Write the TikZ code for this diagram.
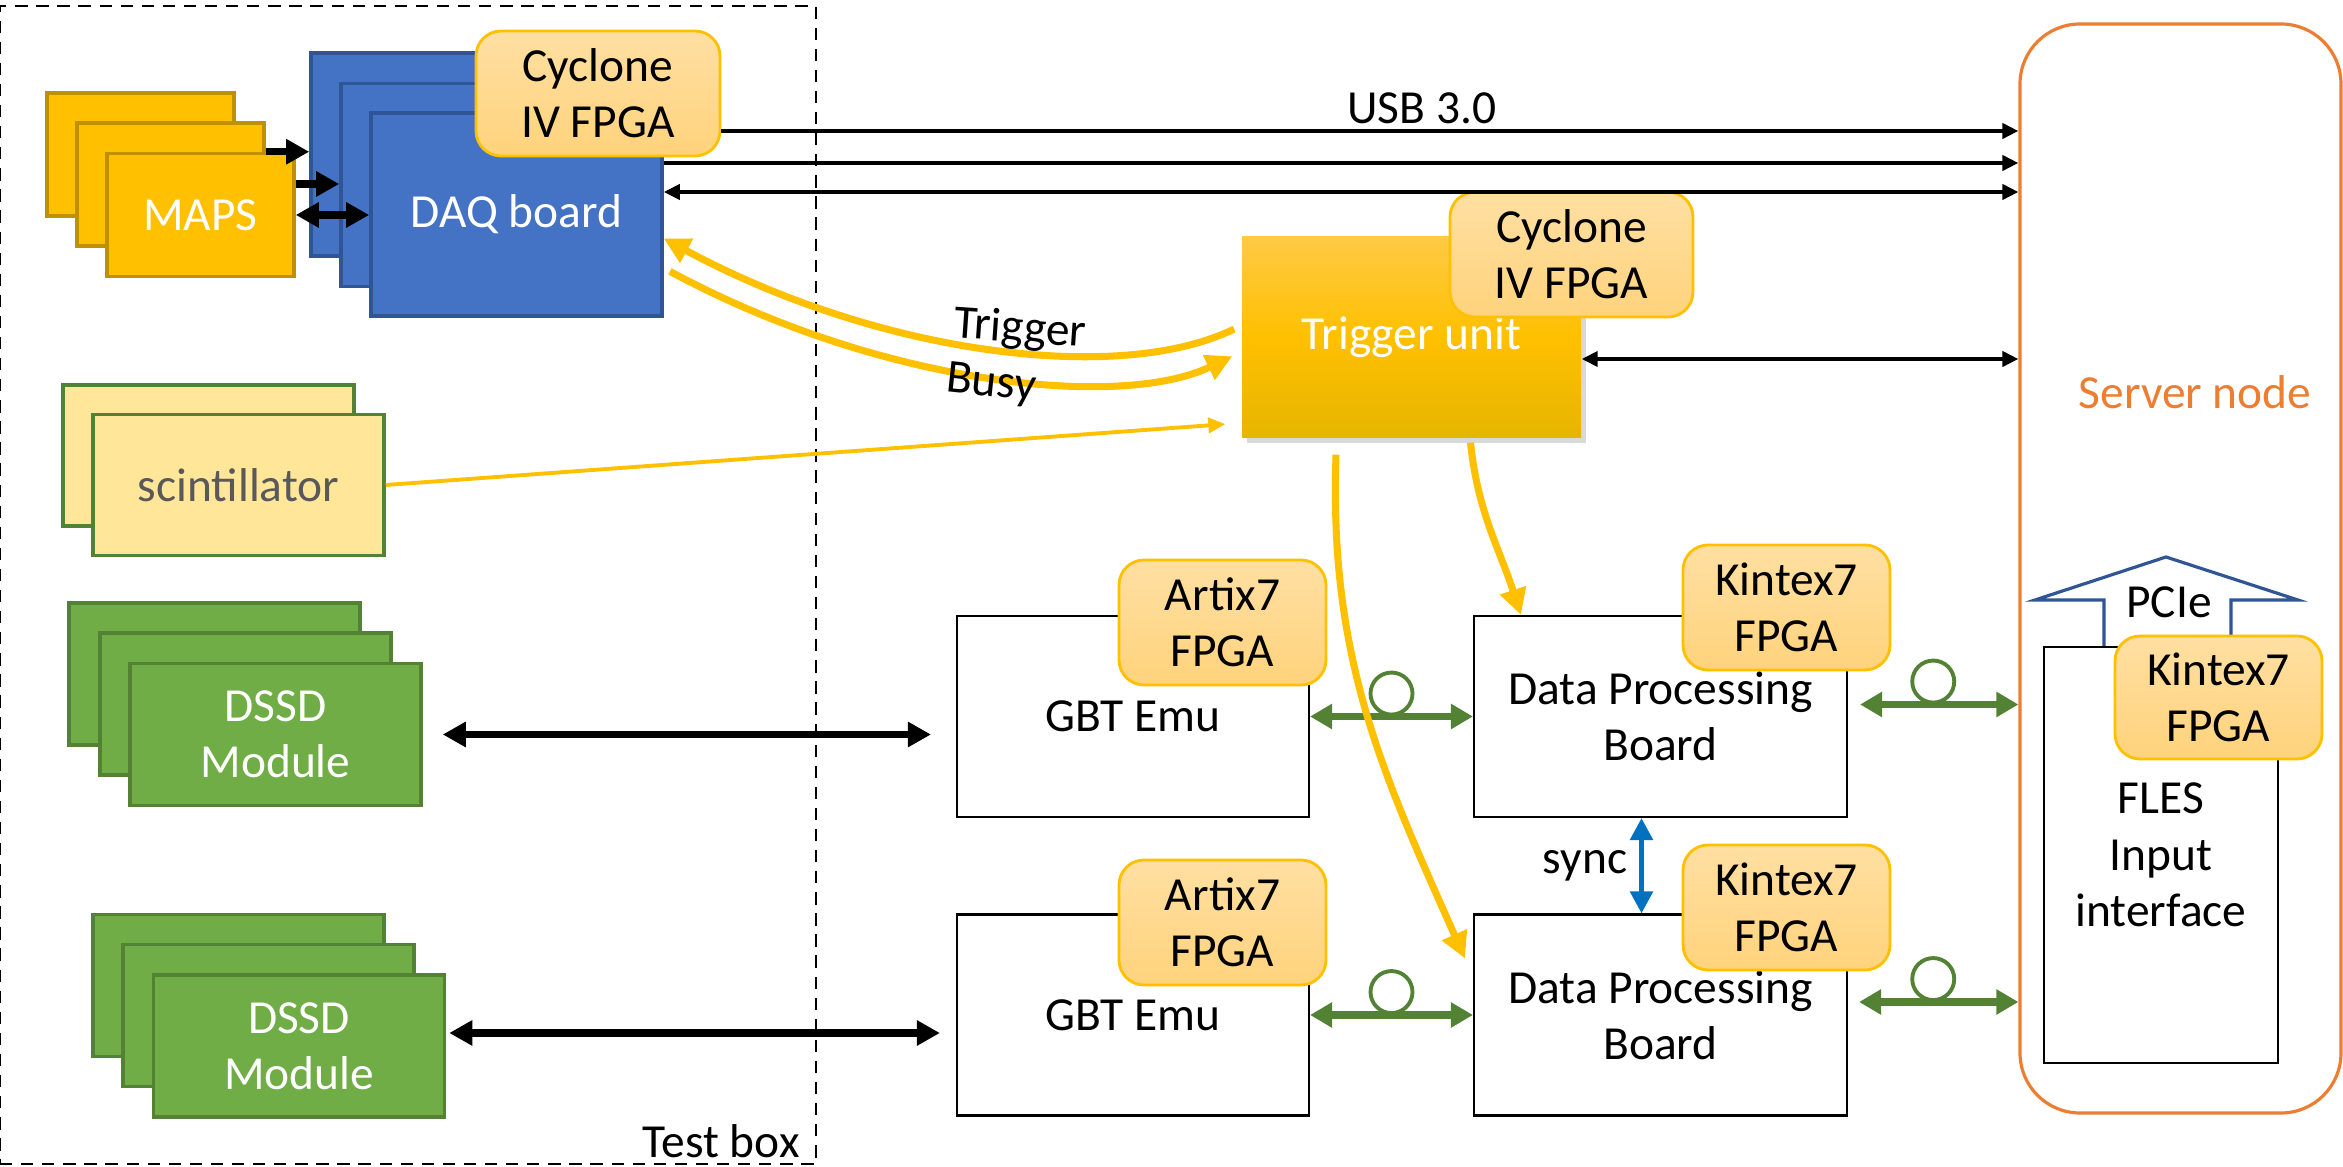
\documentclass[tikz,border=0pt]{standalone}
\usepackage{fontspec}
\setmainfont{Carlito}
\usetikzlibrary{arrows.meta,shadows}

\definecolor{mapsfill}{HTML}{FFC000}
\definecolor{mapsline}{HTML}{BF9000}
\definecolor{daqfill}{HTML}{4472C4}
\definecolor{daqline}{HTML}{2F5597}
\definecolor{fpgatop}{HTML}{FFDFA2}
\definecolor{fpgabot}{HTML}{FFD37C}
\definecolor{fpgaline}{HTML}{FFC000}
\definecolor{scintfill}{HTML}{FFE699}
\definecolor{scinttext}{HTML}{595959}
\definecolor{modline}{HTML}{548235}
\definecolor{dssdfill}{HTML}{70AD47}
\definecolor{fibre}{HTML}{548235}
\definecolor{trigyellow}{HTML}{FFC000}
\definecolor{trigtop}{HTML}{FFCA45}
\definecolor{trigbot}{HTML}{E6B500}
\definecolor{servline}{HTML}{ED7D31}
\definecolor{syncblue}{HTML}{0070C0}
\definecolor{pcieblue}{HTML}{2F5597}

\begin{document}
\begin{tikzpicture}[
    font=\fontsize{13.5}{16}\selectfont,
    box/.style={draw, line width=0.6pt, fill=white, inner sep=0pt, align=center},
    maps/.style={box, fill=mapsfill, draw=mapsline, line width=1pt, text=white,
                 minimum width=1.87cm, minimum height=1.23cm},
    daq/.style={box, fill=daqfill, draw=daqline, line width=1pt, text=white,
                minimum width=2.91cm, minimum height=2.03cm},
    scint/.style={box, fill=scintfill, draw=modline, line width=1pt, text=scinttext,
                  minimum width=2.91cm, minimum height=1.41cm},
    dssd/.style={box, fill=dssdfill, draw=modline, line width=1pt, text=white,
                 minimum width=2.91cm, minimum height=1.42cm},
    fpga/.style={draw=fpgaline, line width=0.8pt, rounded corners=0.25cm,
                 top color=fpgatop, bottom color=fpgabot, inner sep=0pt, align=center,
                 minimum width=2.07cm, minimum height=1.25cm},
    trigger/.style={top color=trigtop, bottom color=trigbot, middle color=trigyellow,
                    text=white, inner sep=0pt, minimum width=3.39cm, minimum height=2.01cm,
                    drop shadow={shadow xshift=0.05cm, shadow yshift=-0.05cm, opacity=0.3}},
    fibre/.style={circle, draw=fibre, line width=1.1pt, minimum size=0.42cm, inner sep=0pt},
    thinarr/.style={line width=1.1pt, >={Triangle[length=0.16cm,width=0.15cm]}},
    fatarr/.style={line width=2pt, >={Triangle[length=0.23cm,width=0.24cm]}},
    garr/.style={draw=fibre, line width=2pt, <->, >={Triangle[length=0.22cm,width=0.24cm]}},
    yarr/.style={draw=trigyellow, line width=2pt, ->, >={Triangle[length=0.26cm,width=0.26cm]}},
    syncarr/.style={draw=syncblue, line width=1.5pt, <->, >={Triangle[length=0.22cm,width=0.22cm]}}
  ]
    \useasboundingbox (0,0) rectangle (23.43,-11.67);

    % Test box and server
    \node[draw, dash pattern=on 3.5pt off 2.5pt, line width=0.8pt, inner sep=0pt,
          minimum width=8.16cm, minimum height=11.58cm] (tbox) at (4.08,-5.85) {};
    \node[anchor=base east] (tboxlbl) at (8.12,-11.58) {Test box};
    \node[draw=servline, line width=0.9pt, fill=white, rounded corners=0.6cm, inner sep=0pt,
          minimum width=3.21cm, minimum height=10.89cm] (server) at (21.805,-5.685) {};
    \node[text=servline] (serverlbl) at (21.95,-3.92) {Server node};

    % MAPS and DAQ
    \node[maps] (maps1) at (1.405,-1.545) {};
    \node[maps] (maps2) at (1.705,-1.845) {};
    \node[maps] (maps3) at (2.005,-2.15) {MAPS};
    \node[daq] (daq1) at (4.565,-1.545) {};
    \node[daq] (daq2) at (4.865,-1.85) {};
    \node[daq] (daq3) at (5.165,-2.145) {DAQ board};
    \node[fpga, minimum width=2.44cm] (cyc1) at (5.98,-0.935) {Cyclone\\IV FPGA};

    % Scintillator and DSSD
    \node[scint] (scint1) at (2.085,-4.555) {};
    \node[scint] (scint2) at (2.385,-4.85) {scintillator};
    \node[dssd] (dssd11) at (2.145,-6.74) {};
    \node[dssd] (dssd12) at (2.455,-7.04) {};
    \node[dssd] (dssd13) at (2.755,-7.345) {DSSD\\Module};
    \node[dssd] (dssd21) at (2.385,-9.855) {};
    \node[dssd] (dssd22) at (2.685,-10.155) {};
    \node[dssd] (dssd23) at (2.99,-10.46) {DSSD\\Module};

    % Readout chain
    \node[box, minimum width=3.52cm, minimum height=2.01cm] (gbt1) at (11.33,-7.165) {GBT Emu};
    \node[box, minimum width=3.52cm, minimum height=2.01cm] (gbt2) at (11.33,-10.15) {GBT Emu};
    \node[fpga] (art1) at (12.225,-6.225) {Artix7\\FPGA};
    \node[fpga] (art2) at (12.225,-9.225) {Artix7\\FPGA};
    \node[box, minimum width=3.73cm, minimum height=2.01cm] (dpb1) at (16.605,-7.165) {Data Processing\\Board};
    \node[box, minimum width=3.73cm, minimum height=2.01cm] (dpb2) at (16.605,-10.15) {Data Processing\\Board};
    \node[fpga] (kin1) at (17.865,-6.075) {Kintex7\\FPGA};
    \node[fpga] (kin2) at (17.865,-9.075) {Kintex7\\FPGA};

    % FLES
    \draw[draw=pcieblue, line width=0.9pt, fill=white] (21.04,-6.47) |- (20.35,-6.00) -- (21.66,-5.57)
        -- (22.98,-6.00) -| (22.31,-6.47);
    \node (pcielbl) at (21.69,-6.02) {PCIe};
    \node[box, minimum width=2.34cm, minimum height=4.16cm] (fles) at (21.61,-8.55) {FLES\\Input\\interface};
    \node[fpga, minimum height=1.23cm] (kin3) at (22.185,-6.975) {Kintex7\\FPGA};

    % Trigger unit
    \node[trigger] (trig) at (14.115,-3.375) {Trigger unit};
    \node[fpga, minimum width=2.43cm] (cyc2) at (15.715,-2.545) {Cyclone\\IV FPGA};

    % Edges
    \draw[fatarr, ->] (maps2.east |- maps3.north) -- (maps3.north -| daq1.west);
    \draw[fatarr, ->] ([yshift=0.31cm]maps3.east) -- ([yshift=0.31cm]maps3.east -| daq2.west);
    \draw[fatarr, <->] (maps3.east) -- (maps3.east -| daq3.west);
    \draw[thinarr, ->] ([yshift=-0.375cm]cyc1.east) -- ([yshift=-0.375cm]cyc1.east -| server.west)
        node[pos=0.54, above, inner sep=1.5pt] (usblbl) {USB 3.0};
    \draw[thinarr, ->] ([yshift=0.515cm]daq3.east) -- ([yshift=0.515cm]daq3.east -| server.west);
    \draw[thinarr, <->] ([yshift=0.225cm]daq3.east) -- ([yshift=0.225cm]daq3.east -| server.west);
    \draw[thinarr, <->] ([yshift=-0.215cm]trig.east) -- ([yshift=-0.215cm]trig.east -| server.west);

    \draw[fatarr, <->, shorten <=0.2cm, shorten >=0.25cm] (dssd13.east) -- (dssd13.east -| gbt1.west);
    \draw[fatarr, <->, shorten <=0.03cm, shorten >=0.16cm] ([yshift=0.13cm]dssd23.east)
        -- ([yshift=0.13cm]dssd23.east -| gbt2.west);

    \draw[garr] (gbt1.east) -- (dpb1.west) node[midway, fibre, above=0pt] (loop1) {};
    \draw[garr] (gbt2.east) -- (dpb2.west) node[midway, fibre, above=0pt] (loop2) {};
    \draw[garr, shorten <=0.12cm] ([yshift=0.12cm]dpb1.east) -- ([yshift=0.12cm]dpb1.east -| server.west)
        node[midway, fibre, above=0pt] (loop3) {};
    \draw[garr, shorten <=0.11cm] ([yshift=0.13cm]dpb2.east) -- ([yshift=0.13cm]dpb2.east -| server.west)
        node[midway, fibre, above=0pt] (loop4) {};
    \draw[syncarr] ([xshift=-0.19cm]dpb1.south) -- ([xshift=-0.19cm]dpb2.north)
        node[midway, left] (synclbl) {sync};

    % Trigger lines
    \draw[yarr, line width=1.1pt, >={Triangle[length=0.17cm,width=0.15cm]}, shorten >=0.16cm]
        (scint2.east) -- ([yshift=-0.855cm]trig.west);
    \draw[yarr, shorten <=0.08cm] ([yshift=0.12cm]trig.west) .. controls (11.2,-3.85) and (8.8,-3.55)
        .. ([yshift=-0.24cm]daq3.east);
    \draw[yarr, shorten <=0.07cm, shorten >=0.1cm] ([yshift=-0.535cm]daq3.east)
        .. controls (8.8,-3.85) and (11.2,-4.1) .. ([yshift=-0.145cm]trig.west);
    \draw[yarr] ([xshift=0.59cm,yshift=-0.04cm]trig.south) to[out=-84, in=108] ([xshift=0.48cm]dpb1.north west);
    \draw[yarr] ([xshift=-0.755cm,yshift=-0.16cm]trig.south) to[out=-92, in=114]
        ([xshift=-0.08cm,yshift=-0.45cm]dpb2.north west);
    \node[rotate=-4] (triglbl) at (10.20,-3.30) {Trigger};
    \node[rotate=-6] (busylbl) at (9.91,-3.85) {Busy};
\end{tikzpicture}
\end{document}
